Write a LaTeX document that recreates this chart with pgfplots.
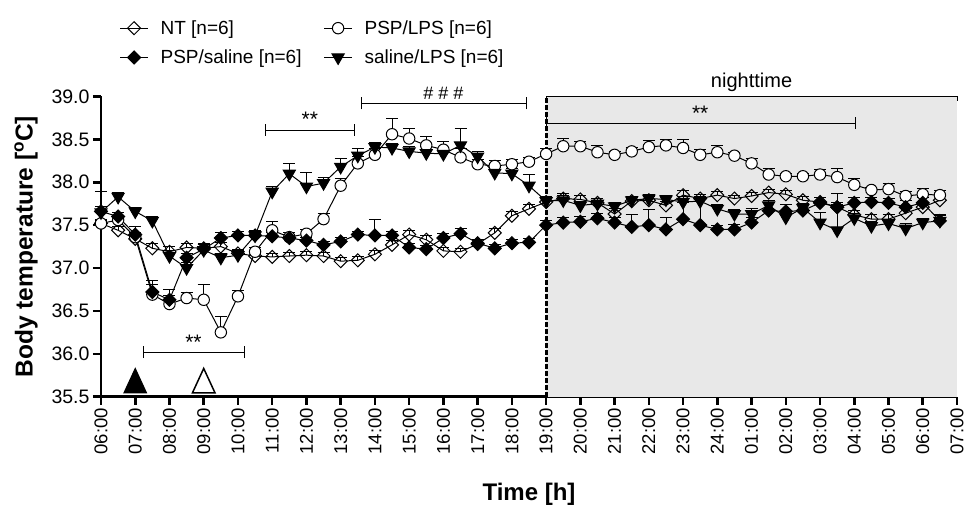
\documentclass[border=0pt]{standalone}
\usepackage{fontspec}
\setmainfont{Liberation Sans}
\usepackage{pgfplots}
\usepackage{pgfplotstable}
\pgfplotsset{compat=1.18}

\pgfplotstableread{
x y e
0 37.52 0.04
0.5 37.44 0.04
1 37.34 0.04
1.5 37.23 0.06
2 37.19 0.06
2.5 37.24 0.05
3 37.23 0.06
3.5 37.25 0.05
4 37.17 0.05
4.5 37.14 0.05
5 37.13 0.04
5.5 37.14 0.04
6 37.15 0.04
6.5 37.14 0.04
7 37.08 0.04
7.5 37.09 0.04
8 37.16 0.04
8.5 37.27 0.05
9 37.39 0.05
9.5 37.33 0.05
10 37.20 0.04
10.5 37.19 0.04
11 37.28 0.05
11.5 37.41 0.05
12 37.61 0.05
12.5 37.69 0.05
13 37.77 0.05
13.5 37.81 0.06
14 37.80 0.05
14.5 37.76 0.05
15 37.63 0.06
15.5 37.78 0.05
16 37.79 0.05
16.5 37.73 0.05
17 37.85 0.05
17.5 37.81 0.05
18 37.85 0.04
18.5 37.81 0.04
19 37.84 0.04
19.5 37.88 0.04
20 37.86 0.04
20.5 37.79 0.04
21 37.77 0.05
21.5 37.71 0.05
22 37.62 0.05
22.5 37.57 0.05
23 37.57 0.05
23.5 37.64 0.05
24 37.71 0.05
24.5 37.79 0.05
}\NT

\pgfplotstableread{
x y e
0 37.52 0.05
0.5 37.56 0.05
1 37.36 0.05
1.5 36.69 0.12
2 36.58 0.10
2.5 36.65 0.07
3 36.63 0.18
3.5 36.25 0.19
4 36.67 0.07
4.5 37.19 0.05
5 37.44 0.10
5.5 37.36 0.05
6 37.40 0.05
6.5 37.57 0.07
7 37.96 0.08
7.5 38.22 0.08
8 38.32 0.07
8.5 38.56 0.18
9 38.51 0.12
9.5 38.43 0.10
10 38.38 0.10
10.5 38.29 0.10
11 38.21 0.06
11.5 38.19 0.07
12 38.21 0.06
12.5 38.24 0.05
13 38.33 0.07
13.5 38.42 0.09
14 38.42 0.06
14.5 38.35 0.08
15 38.32 0.04
15.5 38.36 0.05
16 38.41 0.08
16.5 38.43 0.07
17 38.40 0.10
17.5 38.32 0.06
18 38.35 0.08
18.5 38.31 0.04
19 38.22 0.06
19.5 38.09 0.07
20 38.07 0.03
20.5 38.07 0.03
21 38.09 0.06
21.5 38.06 0.10
22 37.97 0.07
22.5 37.91 0.03
23 37.92 0.07
23.5 37.84 0.05
24 37.86 0.07
24.5 37.85 0.06
}\PSPLPS

\pgfplotstableread{
x y e
0 37.66 0.06
0.5 37.60 0.05
1 37.39 0.10
1.5 36.72 0.14
2 36.63 0.12
2.5 37.12 0.05
3 37.22 0.05
3.5 37.35 0.07
4 37.38 0.05
4.5 37.38 0.06
5 37.37 0.04
5.5 37.35 0.04
6 37.32 0.04
6.5 37.27 0.04
7 37.31 0.05
7.5 37.39 0.04
8 37.38 0.19
8.5 37.38 0.05
9 37.24 0.05
9.5 37.22 0.04
10 37.35 0.05
10.5 37.40 0.06
11 37.29 0.04
11.5 37.23 0.04
12 37.29 0.04
12.5 37.30 0.04
13 37.50 0.06
13.5 37.53 0.06
14 37.54 0.06
14.5 37.58 0.06
15 37.53 0.06
15.5 37.48 0.14
16 37.50 0.18
16.5 37.45 0.14
17 37.57 0.20
17.5 37.50 0.30
18 37.45 0.05
18.5 37.45 0.06
19 37.53 0.06
19.5 37.67 0.10
20 37.66 0.08
20.5 37.67 0.06
21 37.76 0.06
21.5 37.71 0.16
22 37.76 0.06
22.5 37.77 0.05
23 37.76 0.05
23.5 37.71 0.08
24 37.76 0.06
24.5 37.55 0.06
}\PSPsal

\pgfplotstableread{
x y e
0 37.65 0.24
0.5 37.83 0.05
1 37.66 0.05
1.5 37.55 0.05
2 37.14 0.06
2.5 37.00 0.06
3 37.21 0.06
3.5 37.12 0.05
4 37.15 0.05
4.5 37.38 0.05
5 37.89 0.06
5.5 38.10 0.12
6 37.95 0.17
6.5 37.99 0.07
7 38.18 0.10
7.5 38.31 0.08
8 38.41 0.06
8.5 38.40 0.05
9 38.36 0.06
9.5 38.34 0.08
10 38.33 0.06
10.5 38.43 0.20
11 38.30 0.06
11.5 38.11 0.06
12 38.10 0.06
12.5 37.96 0.13
13 37.78 0.06
13.5 37.79 0.06
14 37.73 0.05
14.5 37.75 0.04
15 37.72 0.04
15.5 37.79 0.05
16 37.81 0.05
16.5 37.80 0.05
17 37.77 0.06
17.5 37.78 0.05
18 37.69 0.05
18.5 37.63 0.05
19 37.63 0.06
19.5 37.73 0.06
20 37.59 0.05
20.5 37.70 0.05
21 37.53 0.12
21.5 37.44 0.30
22 37.58 0.06
22.5 37.49 0.05
23 37.52 0.05
23.5 37.46 0.06
24 37.53 0.05
24.5 37.55 0.07
}\salLPS

\begin{document}
\begin{tikzpicture}
\path[use as bounding box] (-101pt,-113.3pt) rectangle (866pt,396.7pt);
\begin{axis}[
  scale only axis,
  width=856pt, height=300.2pt,
  at={(0pt,0pt)}, anchor=south west,
  xmin=0, xmax=25, ymin=35.5, ymax=39.0,
  clip=false,
  axis x line=bottom, axis y line=left,
  axis line style={-, line width=2.6pt},
  tick style={line width=2.6pt, black},
  tick align=outside,
  major tick length=8pt,
  xtick={0,...,25},
  xticklabels={06:00,07:00,08:00,09:00,10:00,11:00,12:00,13:00,14:00,15:00,16:00,17:00,18:00,19:00,20:00,21:00,22:00,23:00,24:00,01:00,02:00,03:00,04:00,05:00,06:00,07:00},
  xticklabel style={rotate=90, anchor=east, font=\fontsize{18.5}{20}\selectfont},
  ytick={35.5,36,36.5,37,37.5,38,38.5,39},
  yticklabel style={font=\fontsize{19.5}{22}\selectfont, /pgf/number format/.cd, fixed, fixed zerofill, precision=1, assume math mode=true},
  xlabel={\bfseries Time [h]},
  ylabel={\bfseries Body temperature [\textsuperscript{o}C]},
  xlabel style={at={(axis description cs:0.5,-0.3265)}, anchor=center, font=\fontsize{24}{27}\selectfont},
  ylabel style={at={(axis description cs:-0.0876,0.5)}, anchor=center, font=\fontsize{24.5}{27}\selectfont},
  legend columns=2,
  legend style={draw=none, fill=none, at={(axis description cs:0.018,1.267)}, anchor=north west,
    font=\fontsize{19}{21}\selectfont, row sep=10pt,
    /tikz/every odd column/.append style={column sep=10pt},
    /tikz/every even column/.append style={column sep=20pt}},
  legend cell align=left,
  legend image code/.code={\draw[mark repeat=2,mark phase=2,#1] plot coordinates {(0pt,0pt) (14pt,0pt) (28pt,0pt)};},
  every axis plot/.append style={black, line width=1pt},
  error bars/y dir=plus, error bars/y explicit,
  error bars/error bar style={line width=0.9pt, black},
  error bars/error mark options={mark size=6pt, line width=0.9pt, black, rotate=90},
]
% nighttime shading
\fill[black!9] (axis cs:13,35.5) rectangle (axis cs:25,39.0);
\draw[line width=0.8pt] (axis cs:13,38.95) -- (axis cs:13,39.0) -- (axis cs:25,39.0) -- (axis cs:25,38.95);
\node[anchor=south, font=\fontsize{20}{22}\selectfont] at (axis cs:19,39.02) {nighttime};

\addplot[mark=square, mark size=4.6pt, mark options={fill=white, solid, rotate=45}] table[x=x,y=y,y error=e]{\NT};
\addlegendentry{NT [n=6]}
\addplot[mark=*, mark size=5.7pt, mark options={fill=white, solid}] table[x=x,y=y,y error=e]{\PSPLPS};
\addlegendentry{PSP/LPS [n=6]}
\addplot[mark=square*, mark size=4.6pt, mark options={fill=black, solid, rotate=45}] table[x=x,y=y,y error=e]{\PSPsal};
\addlegendentry{PSP/saline [n=6]}
\addplot[mark=triangle*, mark size=7pt, mark options={fill=black, solid, rotate=180}] table[x=x,y=y,y error=e]{\salLPS};
\addlegendentry{saline/LPS [n=6]}

% injection markers
\addplot[only marks, mark=triangle*, mark size=13pt, mark options={fill=black, yscale=1.25}, forget plot, error bars/y dir=none] coordinates {(1,35.64)};
\addplot[only marks, mark=triangle*, mark size=13pt, mark options={fill=white, line width=1.5pt, yscale=1.25}, forget plot, error bars/y dir=none] coordinates {(3,35.64)};

% 19:00 boundary line
\draw[black, line width=3pt, dash pattern=on 4.5pt off 2.5pt] (axis cs:13,35.5) -- (axis cs:13,39.0);

% significance brackets
\draw[line width=0.8pt] (axis cs:1.23,35.95) -- (axis cs:1.23,36.09) (axis cs:1.23,36.02) -- (axis cs:4.2,36.02) (axis cs:4.2,35.95) -- (axis cs:4.2,36.09);
\node[font=\fontsize{21}{22}\selectfont] at (axis cs:2.7,36.14) {**};
\draw[line width=0.8pt] (axis cs:4.79,38.54) -- (axis cs:4.79,38.68) (axis cs:4.79,38.61) -- (axis cs:7.41,38.61) (axis cs:7.41,38.54) -- (axis cs:7.41,38.68);
\node[font=\fontsize{21}{22}\selectfont] at (axis cs:6.1,38.73) {**};
\draw[line width=0.8pt] (axis cs:7.6,38.85) -- (axis cs:7.6,38.99) (axis cs:7.6,38.92) -- (axis cs:12.42,38.92) (axis cs:12.42,38.85) -- (axis cs:12.42,38.99);
\node[font=\fontsize{18}{20}\selectfont] at (axis cs:10.0,39.04) {\# \# \#};
\draw[line width=0.8pt] (axis cs:13,38.62) -- (axis cs:13,38.76) (axis cs:13,38.69) -- (axis cs:22.03,38.69) (axis cs:22.03,38.62) -- (axis cs:22.03,38.76);
\node[font=\fontsize{21}{22}\selectfont] at (axis cs:17.5,38.81) {**};
\end{axis}
\end{tikzpicture}
\end{document}
